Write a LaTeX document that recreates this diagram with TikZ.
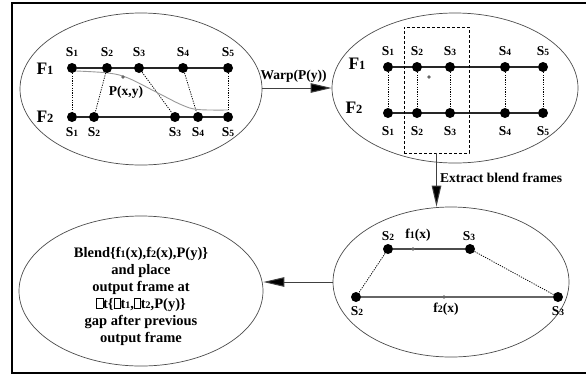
\documentclass[tikz,border=0pt]{standalone}
\usepackage{fontspec}
\setmainfont{Liberation Serif}
\usetikzlibrary{shapes.geometric,arrows.meta}
\pgfdeclarelayer{bg}
\pgfdeclarelayer{paper}
\pgfsetlayers{paper,bg,main}
\newcommand\Ssub[1]{S{\fontsize{9.5}{9.5}\selectfont #1}}
\newcommand\Fsub[1]{F{\fontsize{12.5}{12.5}\selectfont #1}}
\newcommand\nsub[1]{{\fontsize{10}{10}\selectfont #1}}
\newcommand\missbox{{\setlength{\fboxsep}{0pt}\setlength{\fboxrule}{0.4pt}\fbox{\rule{0pt}{0.68em}\hspace{0.42em}}}}
\tikzset{
  lab/.style={font=\fontsize{13.5}{13.5}\selectfont\bfseries, inner sep=0pt},
  flab/.style={font=\fontsize{17.5}{17.5}\selectfont\bfseries, inner sep=0pt},
  dot/.style={circle, fill=black, draw=none, inner sep=0pt, minimum size=10pt},
  gdot/.style={circle, fill=black!60, draw=none, inner sep=0pt, minimum size=3.6pt},
  ell/.style={ellipse, draw=black!70, line width=0.7pt, inner sep=0pt},
  rowline/.style={draw=black!85, line width=1.2pt},
  dotline/.style={draw=black, line width=0.75pt, dash pattern=on 1.2pt off 1.2pt},
  arr/.style={draw=black!75, line width=1pt, -{Triangle[length=21pt,width=9.5pt,fill=black]}},
}
\begin{document}
\begin{tikzpicture}[x=1pt,y=-1pt]
\useasboundingbox (0,0) rectangle (586,376);
\begin{pgfonlayer}{paper}
\fill[white] (0,0) rectangle (586,376);
\end{pgfonlayer}
% frame
\draw[line width=2.4pt] (600,3) -- (12,3) -- (12,373) -- (600,373);

% ellipses
\node[ell, minimum width=242pt, minimum height=152pt] (e1) at (141,89) {};
\node[ell, minimum width=246pt, minimum height=150pt] (e2) at (455,88) {};
\node[ell, minimum width=236pt, minimum height=150pt] (e3) at (451,282) {};
\node[ell, minimum width=244pt, minimum height=150pt] (e4) at (141,291) {};

% ---- ellipse 1
\node[flab] (f1a) at (45,69) {\Fsub1};
\node[flab] (f2a) at (45,117) {\Fsub2};
\foreach \i/\x in {1/72,2/107,3/139,4/183,5/228}{
  \node[dot] (a\i) at (\x,68) {};
  \node[lab] (la\i) at (\x,52) {\Ssub\i};
}
\foreach \i/\x in {1/72,2/94,3/175,4/198,5/228}{
  \node[dot] (b\i) at (\x,117) {};
  \node[lab] (lb\i) at (\x,132) {\Ssub\i};
}
\node[gdot] (p) at (123,77) {};
\node[lab] (pl) at (126,92) {P(x,y)};
\begin{pgfonlayer}{bg}
\draw[rowline] (a1) -- (a5);
\draw[rowline] (b1) -- (b5);
\foreach \i in {1,...,5}{\draw[dotline] (a\i) -- (b\i);}
\draw[black!40, line width=0.9pt] plot[smooth, tension=0.6] coordinates {(76,71) (108,73) (128,78) (158,93) (182,105) (198,109.5) (228,110)};
\end{pgfonlayer}

% ---- ellipse 2
\node[flab] (f1b) at (357,64) {\Fsub1};
\node[flab] (f2b) at (354,108) {\Fsub2};
\foreach \i/\x in {1/388,2/417,3/450,4/505,5/543}{
  \node[dot] (c\i) at (\x,67) {};
  \node[dot] (d\i) at (\x,113) {};
  \node[lab] (lc\i) at (\x,51) {\Ssub\i};
  \node[lab] (ld\i) at (\x,131) {\Ssub\i};
}
\node[gdot] (q) at (429,77) {};
\node[draw=black, line width=0.7pt, dash pattern=on 3pt off 2pt, minimum width=65pt, minimum height=126pt, inner sep=0pt] (box) at (436.5,90) {};
\begin{pgfonlayer}{bg}
\draw[rowline] (c1) -- (c5);
\draw[rowline] (d1) -- (d5);
\foreach \i in {1,...,5}{\draw[dotline] (c\i) -- (d\i);}
\end{pgfonlayer}

% ---- ellipse 3
\node[dot] (g2) at (388,249) {};
\node[dot] (g3) at (470,249) {};
\node[gdot] (fx1) at (413,249) {};
\node[dot] (h2) at (356,297) {};
\node[dot] (h3) at (558,297) {};
\node[gdot] (fx2) at (444,297) {};
\node[lab] (lg2) at (388,236) {\Ssub2};
\node[lab] (lf1) at (418,235) {f\nsub1(x)};
\node[lab] (lg3) at (469,236) {\Ssub3};
\node[lab] (lh2) at (357,311) {\Ssub2};
\node[lab] (lf2) at (446,309) {f\nsub2(x)};
\node[lab] (lh3) at (558,311) {\Ssub3};
\begin{pgfonlayer}{bg}
\draw[rowline, draw=black!70] (g2) -- (g3);
\draw[rowline, draw=black!60] (h2) -- (h3);
\draw[dotline] (g2) -- (h2);
\draw[dotline] (g3) -- (h3);
\end{pgfonlayer}

% ---- ellipse 4 text
\node[font=\fontsize{14.5}{17}\selectfont\bfseries, align=center, inner sep=0pt] (blend) at (141,296) {Blend\{f\nsub1(x),f\nsub2(x),P(y)\}\\and place\\output frame at\\\missbox t\{\missbox t\nsub1,\missbox t\nsub2,P(y)\}\\gap after previous\\output frame};

% ---- arrows
\draw[arr] (e2.west -| e1.east) -- node[lab, above=5pt, pos=0.45] (wl) {Warp(P(y))} (e2.west);
\draw[arr] (box.south) -- node[lab, pos=0.45, right=3pt, anchor=west] (xl) {Extract blend frames} (box.south |- e3.north);
\draw[arr] (e3.west) -- (e3.west -| e4.east);
\end{tikzpicture}
\end{document}
